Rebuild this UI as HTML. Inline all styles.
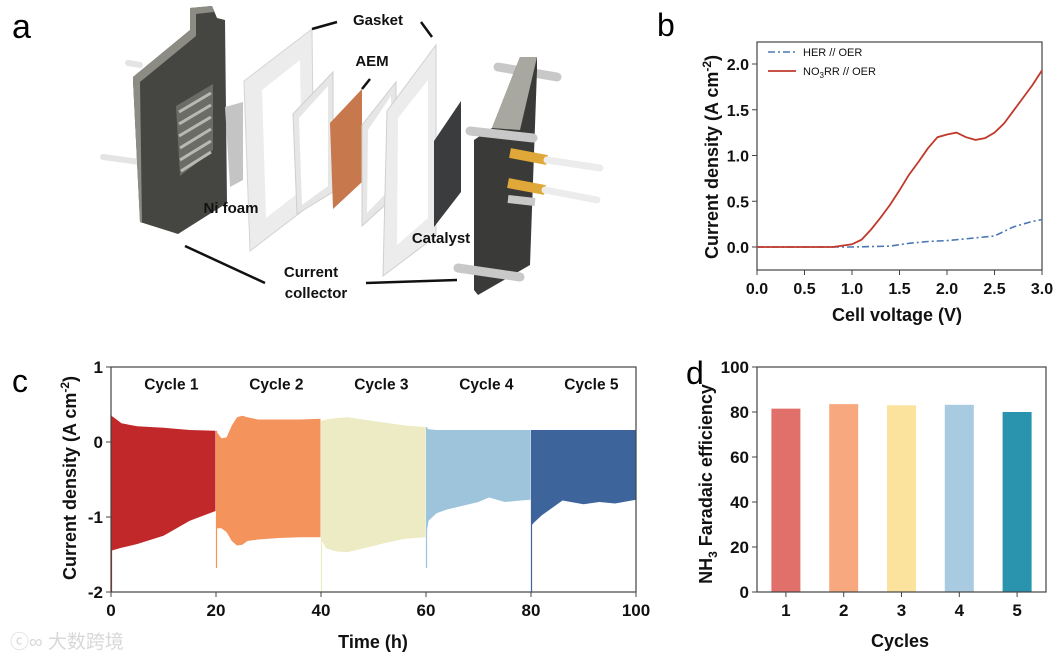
<!DOCTYPE html>
<html><head><meta charset="utf-8"><style>
body{margin:0;background:#fff;}
svg{display:block;font-family:"Liberation Sans",Arial,sans-serif;}
</style></head><body>
<svg id="fig" width="1061" height="659" viewBox="0 0 1061 659" xmlns="http://www.w3.org/2000/svg">
<g id="panelA">
 <text x="12" y="38" font-size="34">a</text>
 <line x1="103" y1="157" x2="140" y2="162" stroke="#e4e4e4" stroke-width="6" stroke-linecap="round"/>
 <line x1="128" y1="63" x2="140" y2="65" stroke="#e4e4e4" stroke-width="6" stroke-linecap="round"/>
 <polygon points="133,77 190,30 190,8 212,6 217,18 225,20 227,203 178,234 140,222 133,80" fill="#454542"/>
 <polygon points="133,77 190,30 190,8 212,6 214,12 196,14 196,36 140,82 142,222 140,222 133,80" fill="#8c8b84"/>
 <polygon points="176,106 213,84 213,150 180,176" fill="#6b6b67"/>
 <g stroke="#b9b9b2" stroke-width="3">
  <line x1="179" y1="112" x2="211" y2="93"/><line x1="179" y1="124" x2="211" y2="105"/><line x1="179" y1="136" x2="211" y2="117"/><line x1="180" y1="148" x2="211" y2="129"/><line x1="180" y1="160" x2="211" y2="141"/><line x1="181" y1="171" x2="211" y2="152"/>
 </g>
 <polygon points="225,107 243,102 243,180 230,187" fill="#c4c4c4"/>
 <polygon points="244,81 312,29 314,202 250,251" fill="#ececec" stroke="#d4d4d4"/>
 <polygon points="262,90 300,60 302,190 266,218" fill="#fff"/>
 <polygon points="293,114 333,72 333,192 297,214" fill="#e6e6e6" stroke="#cfcfcf"/>
 <polygon points="299,118 328,86 328,186 302,205" fill="#fff"/>
 <polygon points="330,123 362,89 362,182 333,209" fill="#c7784c"/>
 <polygon points="362,125 396,82 396,195 362,226" fill="#e6e6e6" stroke="#cfcfcf"/>
 <polygon points="368,130 391,96 391,188 367,213" fill="#fff"/>
 <polygon points="387,111 436,45 436,236 383,276" fill="#ececec" stroke="#cfcfcf"/>
 <polygon points="398,118 428,80 428,218 397,245" fill="#fff"/>
 <polygon points="434,141 461,101 461,192 434,227" fill="#3b3c3d"/>
 <line x1="498" y1="67" x2="557" y2="77" stroke="#c8c8c8" stroke-width="9" stroke-linecap="round"/>
 <polygon points="474,140 492,128 520,57 537,57 537,70 530,265 478,295 474,290" fill="#3a3a38"/>
 <polygon points="492,128 520,57 537,57 520,130" fill="#a9a8a0"/>
 <line x1="470" y1="131" x2="533" y2="138" stroke="#c8c8c8" stroke-width="9" stroke-linecap="round"/>
 <line x1="458" y1="268" x2="520" y2="277" stroke="#c8c8c8" stroke-width="9" stroke-linecap="round"/>
 <line x1="508" y1="199" x2="535" y2="202" stroke="#c8c8c8" stroke-width="8"/>
 <line x1="510" y1="153" x2="547" y2="160" stroke="#e0a838" stroke-width="10"/>
 <line x1="547" y1="160" x2="600" y2="168" stroke="#ececec" stroke-width="7" stroke-linecap="round"/>
 <line x1="508" y1="183" x2="545" y2="190" stroke="#e0a838" stroke-width="10"/>
 <line x1="545" y1="190" x2="597" y2="200" stroke="#ececec" stroke-width="7" stroke-linecap="round"/>
 <g stroke="#111" stroke-width="2.5">
  <line x1="312" y1="29" x2="337" y2="22"/><line x1="421" y1="22" x2="432" y2="37"/>
  <line x1="370" y1="79" x2="362" y2="89"/>
  <line x1="185" y1="246" x2="265" y2="283"/><line x1="366" y1="283" x2="457" y2="280"/>
 </g>
 <g font-weight="bold" font-size="15" fill="#111">
  <text x="378" y="25" text-anchor="middle">Gasket</text>
  <text x="372" y="66" text-anchor="middle">AEM</text>
  <text x="231" y="213" text-anchor="middle">Ni foam</text>
  <text x="441" y="243" text-anchor="middle">Catalyst</text>
  <text x="311" y="277" text-anchor="middle">Current</text>
  <text x="316" y="298" text-anchor="middle">collector</text>
 </g>
</g>
<text x="657" y="36" font-size="32">b</text>
<text x="12" y="392" font-size="32">c</text>
<text x="686" y="384" font-size="32">d</text>
<g id="gB"></g>
<g id="gC"></g>
<g id="gD"></g>
<text x="10" y="648" font-size="19" fill="#d8d8d8" font-family="'Liberation Sans','Noto Sans CJK SC',sans-serif">ⓒ∞ 大数跨境</text>
</svg>
<script>
// ---- Panel b data
const bHerX=[0,0.5,1.0,1.4,1.6,1.8,2.0,2.2,2.4,2.5,2.6,2.7,2.8,2.9,3.0];
const bHerY=[0,0,0,0.01,0.04,0.06,0.07,0.09,0.11,0.12,0.17,0.22,0.25,0.28,0.30];
const bNoX=[0,0.5,0.8,1.0,1.1,1.2,1.3,1.4,1.5,1.6,1.7,1.8,1.9,2.0,2.1,2.2,2.3,2.4,2.5,2.6,2.7,2.8,2.9,3.0];
const bNoY=[0,0,0,0.03,0.08,0.19,0.32,0.46,0.62,0.79,0.93,1.08,1.2,1.23,1.25,1.2,1.17,1.19,1.25,1.35,1.49,1.63,1.77,1.93];
const bXTicks=["0.0","0.5","1.0","1.5","2.0","2.5","3.0"];
const bYTicks=["0.0","0.5","1.0","1.5","2.0"];
// ---- Panel c data
const cCycles=["Cycle 1","Cycle 2","Cycle 3","Cycle 4","Cycle 5"];
const cT1=[0,0.5,2,5,10,15,19.9];
const cU1=[0.35,0.33,0.25,0.21,0.19,0.16,0.15];
const cL1=[-1.45,-1.44,-1.41,-1.36,-1.25,-1.05,-0.92];
const cT2=[20,21,22,23,24,25,26,28,32,36,39.9];
const cU2=[0.15,0.05,0.06,0.22,0.33,0.35,0.33,0.3,0.3,0.3,0.31];
const cL2=[-1.15,-1.15,-1.2,-1.32,-1.38,-1.37,-1.32,-1.3,-1.28,-1.27,-1.27];
const cT3=[40,41,43,45,48,52,56,59.9];
const cU3=[0.28,0.3,0.32,0.33,0.3,0.26,0.22,0.2];
const cL3=[-1.3,-1.42,-1.46,-1.47,-1.42,-1.35,-1.29,-1.27];
const cT4=[60,60.5,62,64,67,70,72,75,78,79.9];
const cU4=[0.2,0.17,0.16,0.16,0.16,0.16,0.16,0.16,0.16,0.16];
const cL4=[-1.25,-1.05,-0.95,-0.9,-0.85,-0.8,-0.74,-0.8,-0.78,-0.77];
const cT5=[80,80.5,82,84,86,90,93,96,100];
const cU5=[0.16,0.16,0.16,0.16,0.16,0.16,0.16,0.16,0.16];
const cL5=[-1.12,-1.08,-0.98,-0.88,-0.78,-0.83,-0.8,-0.82,-0.77];
const cColors=["#c0282a","#f4935b","#ecebc4","#9ec4dc","#3d659c"];
const cXTicks=["0","20","40","60","80","100"];
const cYTicks=["1","0","-1","-2"];
// ---- Panel d data
const dCats=["1","2","3","4","5"];
const dVals=[81.5,83.5,83,83.2,80];
const dColors=["#e2706a","#f8a87e","#fbe39e","#a8cbe1","#2a93ad"];
const dYTicks=["0","20","40","60","80","100"];

const NS="http://www.w3.org/2000/svg";
function mk(p,tag,at){const e=document.createElementNS(NS,tag);for(const k in at)e.setAttribute(k,at[k]);p.appendChild(e);return e;}
function txt(p,x,y,s,size,anchor,extra){const e=mk(p,'text',Object.assign({x:x,y:y,'font-size':size,'text-anchor':anchor||'middle','font-weight':'bold',fill:'#111'},extra||{}));e.textContent=s;return e;}

(function(){
 const g=document.getElementById('gB');
 const L=757,R=1042,T=42,B=270;
 const X=v=>L+(v/3)*(R-L), Y=v=>247-(v/2)*(247-64);
 let e=mk(g,'rect',{x:L,y:T,width:R-L,height:B-T,fill:'none',stroke:'#444','stroke-width':1.2});
 
 bXTicks.forEach((t,i)=>{const v=+t;mk(g,'line',{x1:X(v),x2:X(v),y1:B,y2:B+5,stroke:'#444'});
  e=txt(g,X(v),B+24,t,16);});
 bYTicks.forEach(t=>{const v=+t;mk(g,'line',{x1:L-5,x2:L,y1:Y(v),y2:Y(v),stroke:'#444'});
  e=txt(g,L-8,Y(v)+6,t,16,'end');});
 e=txt(g,897,321,'Cell voltage (V)',18);
 e=mk(g,'text',{x:0,y:0,'font-size':18,'font-weight':'bold','text-anchor':'middle',fill:'#111',transform:'translate(718,157) rotate(-90)'});
 e.innerHTML='Current density (A cm<tspan dy="-7" font-size="12">-2</tspan><tspan dy="7">)</tspan>';
 
 const line=(xs,ys)=>xs.map((x,i)=>(i?'L':'M')+X(x).toFixed(1)+','+Y(ys[i]).toFixed(1)).join('');
 e=mk(g,'path',{d:line(bHerX,bHerY),fill:'none',stroke:'#4a78b5','stroke-width':1.6,'stroke-dasharray':'7,3,2,3'});
 
 e=mk(g,'path',{d:line(bNoX,bNoY),fill:'none',stroke:'#c0392b','stroke-width':1.8});
 
 e=mk(g,'line',{x1:768,x2:796,y1:52,y2:52,stroke:'#4a78b5','stroke-width':1.6,'stroke-dasharray':'7,3,2,3'});
 
 e=txt(g,803,56,'HER // OER',11,'start',{'font-weight':'normal'});
 
 e=mk(g,'line',{x1:768,x2:796,y1:71,y2:71,stroke:'#c0392b','stroke-width':1.8});
 
 e=txt(g,803,75,'',11,'start',{'font-weight':'normal'});
 e.innerHTML='NO<tspan dy="3" font-size="8">3</tspan><tspan dy="-3">RR // OER</tspan>';
 
})();

(function(){
 const g=document.getElementById('gC');
 const L=111,R=636,T=367,B=592;
 const X=v=>L+(v/100)*(R-L), Y=v=>T+(1-v)/3*(B-T);
 const Ts=[cT1,cT2,cT3,cT4,cT5],Us=[cU1,cU2,cU3,cU4,cU5],Ls=[cL1,cL2,cL3,cL4,cL5];
 Ts.forEach((ts,k)=>{
  let d=ts.map((t,i)=>(i?'L':'M')+X(t).toFixed(1)+','+Y(Us[k][i]).toFixed(1)).join('');
  for(let i=ts.length-1;i>=0;i--)d+='L'+X(ts[i]).toFixed(1)+','+Y(Ls[k][i]).toFixed(1);
  const e=mk(g,'path',{d:d+'Z',fill:cColors[k]});
  
  const s=mk(g,'line',{x1:X(ts[0])+0.5,x2:X(ts[0])+0.5,y1:Y(Us[k][0]),y2:Y(k%2===0?-2:-1.68),stroke:cColors[k],'stroke-width':1.2});
  
  const c=txt(g,X(ts[0]+11.5),Y(0.7),cCycles[k],15.5);
  
 });
 let e=mk(g,'rect',{x:L,y:T,width:R-L,height:B-T,fill:'none',stroke:'#444','stroke-width':1.2});
 
 cXTicks.forEach(t=>{const v=+t;mk(g,'line',{x1:X(v),x2:X(v),y1:B,y2:B+5,stroke:'#444'});
  e=txt(g,X(v),B+24,t,17);});
 cYTicks.forEach(t=>{const v=+t;mk(g,'line',{x1:L-5,x2:L,y1:Y(v),y2:Y(v),stroke:'#444'});
  e=txt(g,L-8,Y(v)+6,t,17,'end');});
 e=txt(g,373,648,'Time (h)',18);
 e=mk(g,'text',{x:0,y:0,'font-size':18,'font-weight':'bold','text-anchor':'middle',fill:'#111',transform:'translate(76,478) rotate(-90)'});
 e.innerHTML='Current density (A cm<tspan dy="-7" font-size="12">-2</tspan><tspan dy="7">)</tspan>';
 
})();

(function(){
 const g=document.getElementById('gD');
 const L=757,R=1046,T=367,B=592;
 const Y=v=>B-(v/100)*(B-T);
 const step=(R-L)/5, X=i=>L+step*(i+0.5), bw=29;
 dVals.forEach((v,i)=>{const e=mk(g,'rect',{x:X(i)-bw/2,y:Y(v),width:bw,height:B-Y(v),fill:dColors[i]});
  
  const t=txt(g,X(i),B+24,dCats[i],17);
  mk(g,'line',{x1:X(i),x2:X(i),y1:B,y2:B+5,stroke:'#444'});});
 let e=mk(g,'rect',{x:L,y:T,width:R-L,height:B-T,fill:'none',stroke:'#444','stroke-width':1.2});
 
 dYTicks.forEach(t=>{const v=+t;mk(g,'line',{x1:L-5,x2:L,y1:Y(v),y2:Y(v),stroke:'#444'});
  e=txt(g,L-8,Y(v)+6,t,17,'end');});
 e=txt(g,900,647,'Cycles',18);
 e=mk(g,'text',{x:0,y:0,'font-size':18,'font-weight':'bold','text-anchor':'middle',fill:'#111',transform:'translate(712,484) rotate(-90)'});
 e.innerHTML='NH<tspan dy="5" font-size="12">3</tspan><tspan dy="-5"> Faradaic efficiency</tspan>';
 
})();
</script>
</body></html>
